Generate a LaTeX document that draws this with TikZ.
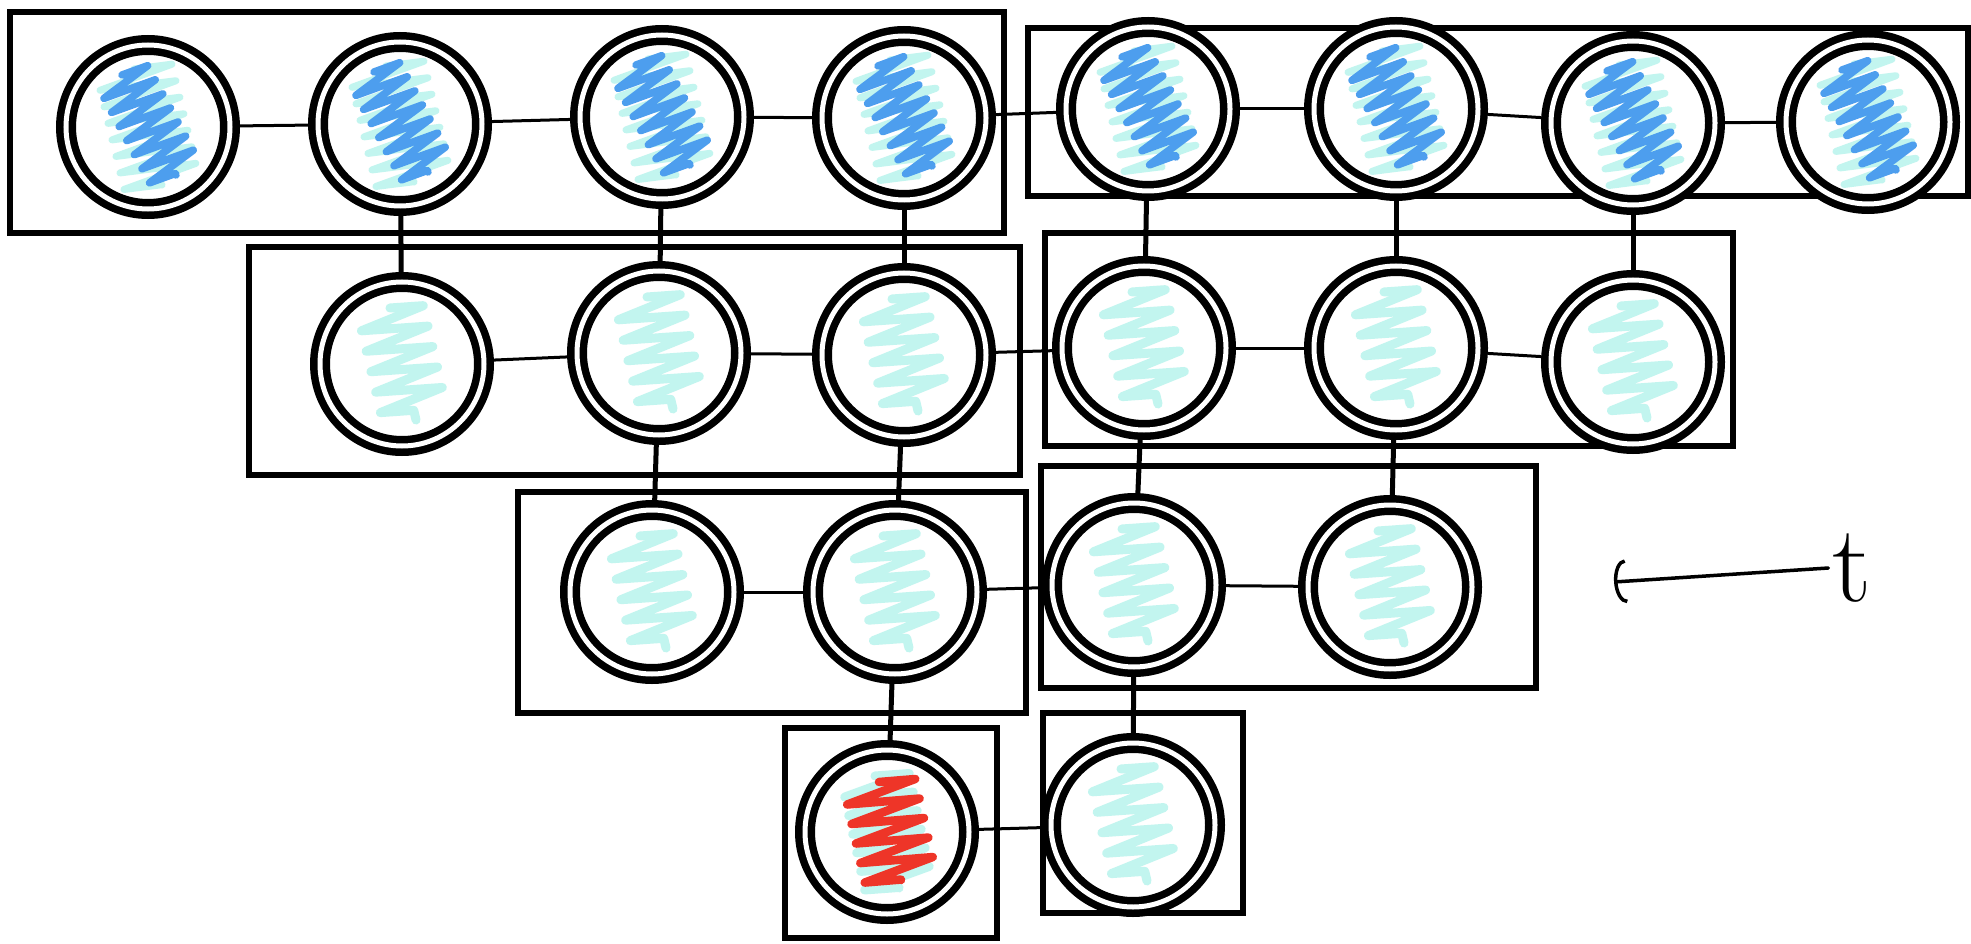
\documentclass[tikz,border=0pt]{standalone}
\usetikzlibrary{decorations.pathmorphing,arrows.meta}
\definecolor{scyan}{HTML}{C2F5EF}
\definecolor{sblue}{HTML}{4D9EEE}
\definecolor{sred}{HTML}{EE3528}
\tikzset{
  cell/.style={circle, draw=black, fill=white, line width=7.5pt, double=white,
    double distance=5pt, minimum size=164pt, inner sep=0pt, outer sep=10pt},
  scr/.style={line cap=round, line join=round, decorate},
  cellc/.style={cell, path picture={
    \draw[scr, draw=scyan, line width=9pt, decoration={zigzag, amplitude=33pt, segment length=21pt}]
      ([shift={(-12,-56)}]path picture bounding box.center) -- ([shift={(14,56)}]path picture bounding box.center);}},
  cellb/.style={cell, path picture={
    \draw[scr, draw=scyan, line width=7pt, decoration={zigzag, amplitude=38pt, segment length=17pt}]
      ([shift={(-14,-58)}]path picture bounding box.center) -- ([shift={(14,58)}]path picture bounding box.center);
    \draw[scr, draw=sblue, line width=7.5pt, decoration={zigzag, amplitude=27pt, segment length=16pt}]
      ([shift={(-26,-52)}]path picture bounding box.center) -- ([shift={(28,48)}]path picture bounding box.center);}},
  cellr/.style={cell, path picture={
    \draw[scr, draw=scyan, line width=9pt, decoration={zigzag, amplitude=34pt, segment length=19pt}]
      ([shift={(-12,-56)}]path picture bounding box.center) -- ([shift={(12,56)}]path picture bounding box.center);
    \draw[scr, draw=sred, line width=8.5pt, decoration={zigzag, amplitude=36pt, segment length=20pt}]
      ([shift={(-8,-50)}]path picture bounding box.center) -- ([shift={(14,48)}]path picture bounding box.center);}},
  boxline/.style={draw=black, line width=6.5pt},
  hlink/.style={draw=black, line width=3pt},
  vlink/.style={draw=black, line width=5pt},
  tlabel/.style={inner sep=0pt, font=\fontsize{110}{110}\selectfont},
  tarrow/.style={draw=black, line width=3.5pt, line cap=round, -{Arc Barb[length=12pt,width=44pt]}}
}
\begin{document}
\begin{tikzpicture}[x=1pt,y=-1pt]
\useasboundingbox[fill=white] (0,0) rectangle (1971,944);
% boxes
\draw[boxline] (10,12) rectangle (1004,233);
\draw[boxline] (1028,28) rectangle (1968,196);
\draw[boxline] (249,247) rectangle (1020,475);
\draw[boxline] (1045,233) rectangle (1733,446);
\draw[boxline] (518,492) rectangle (1026,713);
\draw[boxline] (1041,466) rectangle (1536,688);
\draw[boxline] (785,728) rectangle (997,938);
\draw[boxline] (1043,713) rectangle (1243,913);
% row 1
\node[cellb] (a1) at (148,127) {};
\node[cellb] (a2) at (400,124) {};
\node[cellb] (a3) at (662,117) {};
\node[cellb] (a4) at (904,118) {};
\node[cellb] (a5) at (1148,109) {};
\node[cellb] (a6) at (1396,109) {};
\node[cellb] (a7) at (1633,123) {};
\node[cellb] (a8) at (1868,122) {};
% row 2
\node[cellc] (b1) at (402,364) {};
\node[cellc] (b2) at (659,353) {};
\node[cellc] (b3) at (904,355) {};
\node[cellc] (b4) at (1144,348) {};
\node[cellc] (b5) at (1396,348) {};
\node[cellc] (b6) at (1633,362) {};
% row 3
\node[cellc] (c1) at (652,592) {};
\node[cellc] (c2) at (895,592) {};
\node[cellc] (c3) at (1134,585) {};
\node[cellc] (c4) at (1390,587) {};
% row 4
\node[cellr] (d1) at (887,832) {};
\node[cellc] (d2) at (1133,825) {};
% horizontal links
\draw[hlink] (a2) -- (a1);
\draw[hlink] (a3) -- (a2);
\draw[hlink] (a4) -- (a3);
\draw[hlink] (a5) -- (a4);
\draw[hlink] (a6) -- (a5);
\draw[hlink] (a7) -- (a6);
\draw[hlink] (a8) -- (a7);
\draw[hlink] (b2) -- (b1);
\draw[hlink] (b3) -- (b2);
\draw[hlink] (b4) -- (b3);
\draw[hlink] (b5) -- (b4);
\draw[hlink] (b6) -- (b5);
\draw[hlink] (c2) -- (c1);
\draw[hlink] (c3) -- (c2);
\draw[hlink] (c4) -- (c3);
\draw[hlink] (d2) -- (d1);
% vertical links
\draw[vlink] (a2) -- (b1);
\draw[vlink] (a3) -- (b2);
\draw[vlink] (a4) -- (b3);
\draw[vlink] (a5) -- (b4);
\draw[vlink] (a6) -- (b5);
\draw[vlink] (a7) -- (b6);
\draw[vlink] (b2) -- (c1);
\draw[vlink] (b3) -- (c2);
\draw[vlink] (b4) -- (c3);
\draw[vlink] (b5) -- (c4);
\draw[vlink] (c2) -- (d1);
\draw[vlink] (c3) -- (d2);
% time arrow
\node[tlabel] (tl) at (1852,568) {t};
\coordinate (tend) at (1614,582);
\draw[tarrow] ([xshift=-4pt]tl.west) -- (tend);
\end{tikzpicture}
\end{document}
